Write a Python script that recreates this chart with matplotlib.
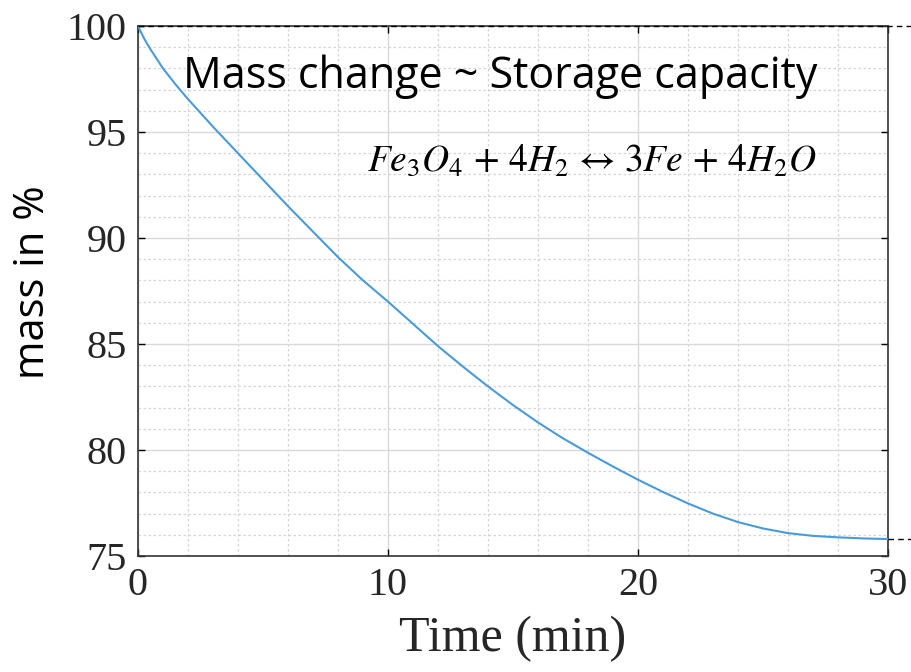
import numpy as np
import matplotlib.pyplot as plt
from matplotlib.ticker import MultipleLocator

# reduction run: sample mass over time
time_min = [0, 0.25, 0.5, 0.75, 1, 1.5, 2, 2.5, 3, 4, 5, 6, 7, 8, 9, 10, 11, 12, 13, 14,
            15, 16, 17, 18, 19, 20, 21, 22, 23, 24, 25, 26, 27, 28, 29, 30]
mass_pct = [100, 99.4, 98.9, 98.45, 98.0, 97.25, 96.55, 95.9, 95.25, 94.0, 92.75, 91.5,
            90.3, 89.1, 88.0, 87.0, 85.95, 84.9, 83.93, 83.0, 82.12, 81.3, 80.55, 79.87,
            79.22, 78.6, 78.02, 77.48, 77.0, 76.6, 76.3, 76.08, 75.95, 75.88, 75.83, 75.8]

x_ticks = [0, 10, 20, 30]
y_ticks = [75, 80, 85, 90, 95, 100]

plt.rcParams['mathtext.fontset'] = 'stix'

fig = plt.figure(figsize=(9.12, 6.72), dpi=100)
ax = fig.add_axes([0.1513, 0.1726, 0.8224, 0.7887])

ax.plot(time_min, mass_pct, color='#4a9bd6', lw=1.5, zorder=3)

# start / end level markers running past the right edge
x_end = 31
ax.plot([0, x_end], [mass_pct[0]] * 2, color='black', lw=1.0, ls=(0, (4, 3)),
        clip_on=False, zorder=4)
ax.plot([time_min[-1], x_end], [mass_pct[-1]] * 2, color='black', lw=1.0,
        ls=(0, (4, 3)), clip_on=False, zorder=4)

ax.set_xlim(0, 30)
ax.set_ylim(75, 100)
ax.set_xticks(x_ticks)
ax.set_yticks(y_ticks)
ax.xaxis.set_minor_locator(MultipleLocator(2))
ax.yaxis.set_minor_locator(MultipleLocator(1))

ax.grid(True, which='major', color='#d9d9d9', lw=1.0)
ax.grid(True, which='minor', color='#d5d5d5', lw=0.9, ls=(0, (2, 2)))
ax.set_axisbelow(True)

ax.tick_params(which='major', direction='in', length=5, width=1.0,
               top=True, right=True, pad=8, labelsize=29, labelcolor='#262626')
ax.tick_params(which='minor', length=0)
for lab in ax.get_xticklabels() + ax.get_yticklabels():
    lab.set_family('Liberation Serif')
for sp in ax.spines.values():
    sp.set_color('#333333')
    sp.set_linewidth(1.2)

ax.set_xlabel('Time (min)', family='Liberation Serif', fontsize=36,
              color='#262626', labelpad=8)
ax.set_ylabel('mass in %', family='Open Sans', fontsize=30)
ax.yaxis.set_label_coords(-0.112, 0.517)

ax.text(0.06, 0.905, 'Mass change ~ Storage capacity', transform=ax.transAxes,
        family='Open Sans', fontsize=31, va='center', ha='left')
ax.text(0.905, 0.745, r'$Fe_3O_4\,+\,4H_2\,\leftrightarrow\,3Fe\,+\,4H_2O$',
        transform=ax.transAxes, fontsize=27, va='center', ha='right')

fig.savefig('out.png', dpi=100)
